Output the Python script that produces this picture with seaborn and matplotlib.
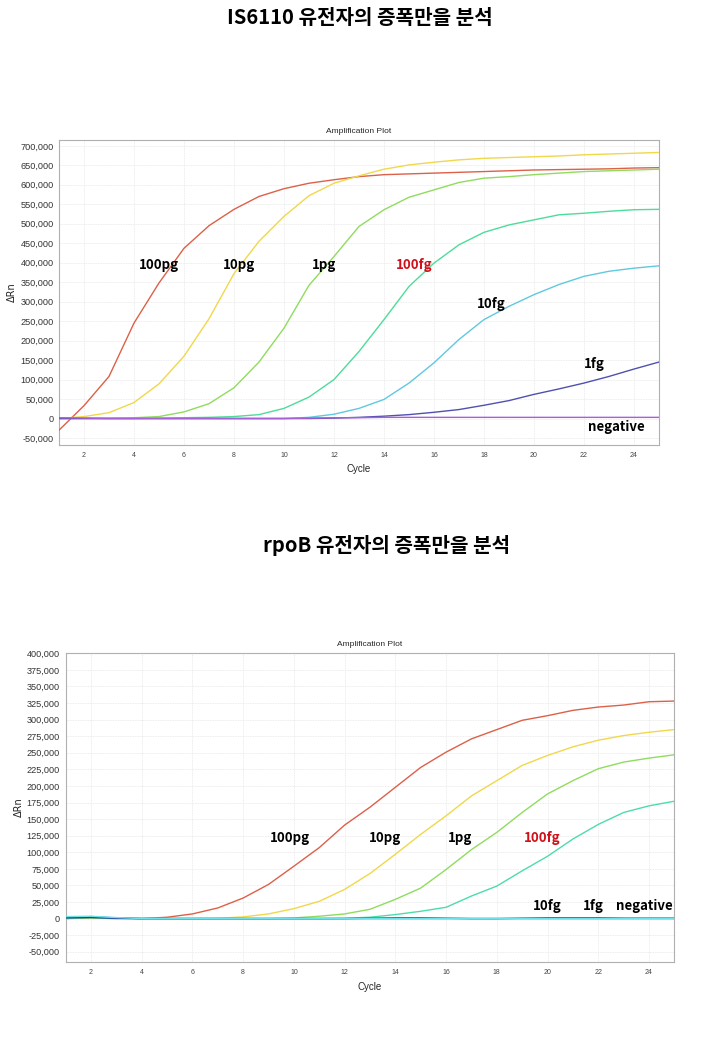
import numpy as np
import pandas as pd
import matplotlib
matplotlib.use("Agg")
import matplotlib.pyplot as plt
import seaborn as sns
from matplotlib.ticker import FuncFormatter, MultipleLocator

cycles = list(range(1, 26))

# IS6110 amplification (delta Rn)
is_100pg = [-30000, 33000, 108000, 245000, 348000, 437000, 495000, 537000, 570000, 590000,
            604000, 613000, 621000, 626000, 628000, 630000, 632000, 634000, 636000, 638000,
            639000, 640000, 641000, 643000, 644000]
is_10pg = [0, 5000, 15000, 41000, 89000, 160000, 256000, 372000, 455000, 519000,
           572000, 604000, 623000, 640000, 651000, 658000, 664000, 668000, 670000, 672000,
           674000, 677000, 679000, 681000, 683000]
is_1pg = [0, 1000, 1000, 2000, 5000, 17000, 38000, 79000, 145000, 232000,
          342000, 416000, 493000, 536000, 568000, 587000, 606000, 617000, 621000, 626000,
          630000, 634000, 636000, 638000, 640000]
is_100fg = [0, 0, 0, 0, 1000, 2000, 3000, 5000, 10000, 26000,
            55000, 100000, 172000, 254000, 339000, 399000, 446000, 478000, 497000, 510000,
            523000, 527000, 532000, 536000, 537000]
is_10fg = [0, 0, 0, 0, 0, 0, 0, 0, 0, 0,
           3000, 11000, 26000, 49000, 91000, 143000, 203000, 254000, 288000, 318000,
           344000, 365000, 378000, 386000, 392000]
is_1fg = [0, 0, 0, 0, 0, 0, 0, 0, 0, 0,
          0, 1000, 3000, 6000, 10000, 16000, 23000, 34000, 46000, 62000,
          76000, 91000, 108000, 127000, 145000]
is_neg = [2000, 1000, 0, 0, 0, 0, 0, 0, 0, 0,
          1000, 2000, 2000, 3000, 3000, 3000, 3000, 3000, 3000, 3000,
          3000, 3000, 3000, 3000, 3000]

# rpoB amplification (delta Rn)
rp_100pg = [0, 2000, 500, 0, 2000, 7000, 16000, 31000, 51500, 79000,
            107000, 141000, 168000, 198000, 228000, 251000, 271000, 285000, 299000, 306000,
            314000, 319000, 322000, 327000, 328000]
rp_10pg = [0, 1000, 0, 0, 0, 0, 500, 2500, 7000, 15000,
           26000, 44000, 68000, 97000, 127000, 155000, 185000, 208000, 231000, 246000,
           259000, 269000, 276000, 281000, 285000]
rp_1pg = [0, 1000, 0, 0, 0, 0, 0, 0, 0, 1000,
          3500, 7000, 14000, 29000, 46000, 74000, 104000, 130000, 160000, 188000,
          208000, 226000, 236000, 242000, 247000]
rp_100fg = [1000, 2000, 0, 0, 0, 0, 0, 0, 0, 0,
            0, 500, 2000, 6000, 11000, 17000, 34000, 49000, 72000, 94000,
            120000, 142000, 160000, 170000, 177000]
rp_10fg = [2000, 3000, 1000, 0, 0, 0, 0, 0, 0, 0,
           0, 0, 0, 0, 0, 0, 0, 0, 0, 0,
           0, 0, 0, 0, 0]
rp_1fg = [1000, 1500, 500, 0, 0, 0, 0, 0, 0, 0,
          0, 0, 500, 1000, 1000, 500, 0, 0, 500, 1000,
          1000, 1000, 500, 500, 500]
rp_neg = [3000, 3500, 1500, 0, 0, 0, 0, 0, 0, 0,
          0, 0, 0, 0, 0, 0, 0, 0, 0, 0,
          0, 0, 0, 0, 0]

samples = ["100pg", "10pg", "1pg", "100fg", "10fg", "1fg", "negative"]
colors = ["#dd6048", "#f0d84a", "#8fdc5e", "#4ddc9a", "#60c8e0", "#5050b0", "#a860d8"]
colors_rp = ["#dd6048", "#f0d84a", "#8fdc5e", "#4ddcaa", "#2080d0", "#1f3fa0", "#70e0e8"]

is_series = [is_100pg, is_10pg, is_1pg, is_100fg, is_10fg, is_1fg, is_neg]
rp_series = [rp_100pg, rp_10pg, rp_1pg, rp_100fg, rp_10fg, rp_1fg, rp_neg]

# label positions (cycle, value)
is_lab_x = [5.0, 8.2, 11.6, 15.2, 18.3, 22.4, 23.3]
is_lab_y = [394000, 394000, 394000, 394000, 294000, 140000, -22000]
rp_lab_x = [9.85, 13.6, 16.55, 19.8, 20.0, 21.8, 23.8]
rp_lab_y = [121000, 121000, 121000, 121000, 19000, 19000, 19000]


def long_df(series):
    rows = []
    for name, vals in zip(samples, series):
        for c, v in zip(cycles, vals):
            rows.append({"Cycle": c, "dRn": v, "sample": name})
    return pd.DataFrame(rows)


sns.set_style("white")
plt.rcParams["font.family"] = ["Liberation Sans", "DejaVu Sans"]
KR = ["Noto Sans CJK KR", "DejaVu Sans"]

fig = plt.figure(figsize=(7.25, 10.44), dpi=100)
ax1 = fig.add_axes([59 / 725, 1 - 445 / 1044, 600 / 725, 305 / 1044])
ax2 = fig.add_axes([65.6 / 725, 1 - 962 / 1044, 608.8 / 725, 309 / 1044])

fmt = FuncFormatter(lambda v, p: f"{int(round(v)):,}")


def draw(ax, series, pal, ylim, ystep, lab_x, lab_y):
    df = long_df(series)
    sns.lineplot(data=df, x="Cycle", y="dRn", hue="sample", hue_order=samples,
                 palette=pal, linewidth=1.0, legend=False, ax=ax, zorder=3)
    ax.set_xlim(1, 25)
    ax.set_ylim(*ylim)
    ax.xaxis.set_major_locator(MultipleLocator(2))
    ax.yaxis.set_major_locator(MultipleLocator(ystep))
    ax.yaxis.set_major_formatter(fmt)
    ax.grid(True, color="#e6e6e6", linestyle=(0, (1, 1)), linewidth=0.6)
    for s in ax.spines.values():
        s.set_color("#b0b0b0")
        s.set_linewidth(0.8)
    ax.tick_params(axis="y", labelsize=6.6, colors="#333333", length=2, pad=2)
    ax.tick_params(axis="x", labelsize=5.0, colors="#444444", length=2, pad=3)
    ax.set_xlabel("Cycle", fontsize=7, labelpad=4)
    ax.set_ylabel("ΔRn", fontsize=7, family="DejaVu Sans", labelpad=2)
    ax.set_title("Amplification Plot", fontsize=6, pad=5)
    for name, x, y in zip(samples, lab_x, lab_y):
        ax.text(x, y, name, fontsize=9.5, fontweight="bold", ha="center", va="center",
                family=KR, color="#d0101a" if name == "100fg" else "black", zorder=5)


draw(ax1, is_series, colors, (-68000, 715000), 50000, is_lab_x, is_lab_y)
draw(ax2, rp_series, colors_rp, (-65500, 400500), 25000, rp_lab_x, rp_lab_y)

fig.text(360 / 725, 1 - 17 / 1044, "IS6110 유전자의 증폭만을 분석", ha="center", va="center",
         fontsize=14.5, fontweight="bold", family=KR, color="black")
fig.text(387 / 725, 1 - 545 / 1044, "rpoB 유전자의 증폭만을 분석", ha="center", va="center",
         fontsize=14.5, fontweight="bold", family=KR, color="black")

fig.savefig("out.png", dpi=100)
